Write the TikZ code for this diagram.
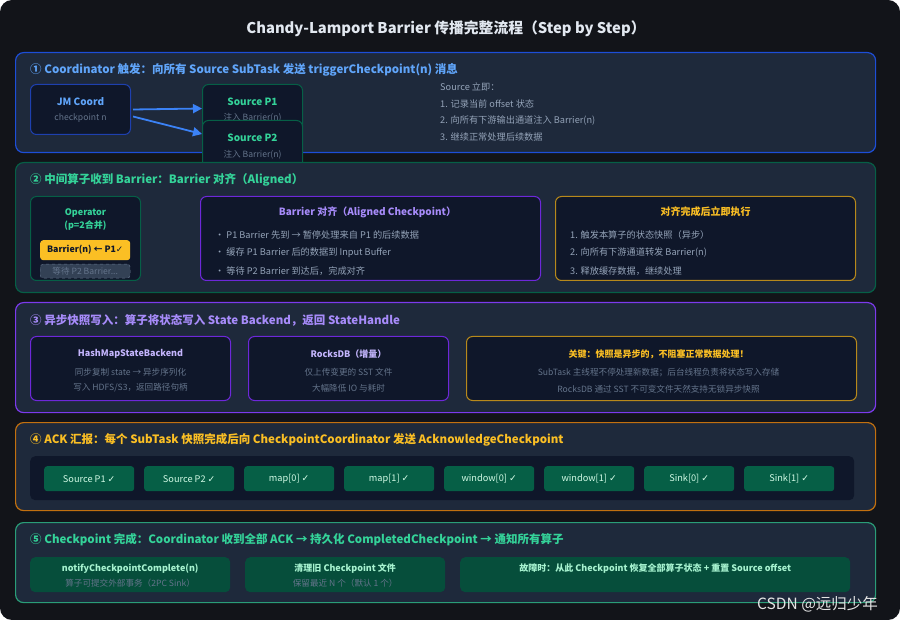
\documentclass[tikz,border=0pt]{standalone}
\usepackage{fontspec}
\setmainfont{Noto Sans CJK SC}
\newfontfamily\symfont{DejaVu Sans}
\usetikzlibrary{calc,arrows.meta}

\definecolor{pagebg}{HTML}{121419}
\definecolor{panelbg}{HTML}{1E293B}
\definecolor{boxbg}{HTML}{0F172A}
\definecolor{titletxt}{HTML}{E2E8F0}
\definecolor{bluebd}{HTML}{1D4ED8}
\definecolor{bluedk}{HTML}{1E40AF}
\definecolor{bluetxt}{HTML}{60A5FA}
\definecolor{arrowblue}{HTML}{3B82F6}
\definecolor{greenbd}{HTML}{065F46}
\definecolor{greentxt}{HTML}{34D399}
\definecolor{purplebd}{HTML}{7C3AED}
\definecolor{purpledk}{HTML}{6D28D9}
\definecolor{purpletxt}{HTML}{A78BFA}
\definecolor{purplelt}{HTML}{C4B5FD}
\definecolor{amberbd}{HTML}{B7891B}
\definecolor{orangebd}{HTML}{C2700F}
\definecolor{yellowtxt}{HTML}{FBBF24}
\definecolor{graytxt}{HTML}{94A3B8}
\definecolor{dimtxt}{HTML}{64748B}
\definecolor{waitbg}{HTML}{334155}
\definecolor{ackbg}{HTML}{065F46}
\definecolor{acktxt}{HTML}{D1FAE5}
\definecolor{donebd}{HTML}{2A9D78}
\definecolor{donebg}{HTML}{064E3B}
\definecolor{donetxt}{HTML}{A7F3D0}

\newcommand{\ok}{{\symfont ✓}}

\begin{document}
\begin{tikzpicture}[x=1pt, y=-1pt,
    panel/.style={draw, line width=1.2pt, rounded corners=8pt, fill=panelbg, anchor=north west, inner sep=0pt},
    box/.style={draw, line width=1pt, rounded corners=6pt, fill=boxbg, anchor=north west, inner sep=0pt},
    head/.style={anchor=west, inner sep=0pt, font=\bfseries\fontsize{11.5}{13}\selectfont},
    boxtitle/.style={inner sep=0pt, font=\bfseries\fontsize{10}{12}\selectfont},
    smalltitle/.style={inner sep=0pt, font=\bfseries\fontsize{9}{11}\selectfont},
    body/.style={anchor=west, inner sep=0pt, text=graytxt, font=\fontsize{9.2}{11}\selectfont},
    sub/.style={inner sep=0pt, text=dimtxt, font=\fontsize{8.6}{10}\selectfont},
    ack/.style={fill=ackbg, rounded corners=3pt, anchor=north west, minimum width=90pt, minimum height=25pt,
        inner sep=0pt, text=acktxt, font=\fontsize{9.2}{11}\selectfont},
    done/.style={fill=donebg, rounded corners=5pt, anchor=north west, minimum height=35pt, inner sep=0pt},
    arr/.style={draw=arrowblue, line width=1.8pt, -{Triangle[length=9pt, width=9pt]}}
  ]
  % page
  \fill[white] (0,0) rectangle (900,620);
  \fill[pagebg, rounded corners=12pt] (0,0) rectangle (900,620);
  \node[text=titletxt, font=\bfseries\fontsize{14.8}{17}\selectfont] (title) at (446,29)
    {Chandy-Lamport Barrier 传播完整流程（Step by Step）};

  % step 1
  \node[panel, draw=bluebd, minimum width=860pt, minimum height=100pt] (s1) at (15,52) {};
  \node[head, text=bluetxt] (h1) at (30,70)
    {① Coordinator 触发：向所有 Source SubTask 发送 triggerCheckpoint(n) 消息};
  \node[box, draw=bluedk, minimum width=100pt, minimum height=50pt] (jm) at (30,84) {};
  \node[boxtitle, text=bluetxt] at ($(jm.north)+(0,18)$) {JM Coord};
  \node[sub] at ($(jm.north)+(0,34)$) {checkpoint n};
  \node[box, draw=greenbd, minimum width=100pt, minimum height=48pt] (p1) at (202,84) {};
  \node[boxtitle, text=greentxt] at ($(p1.north)+(0,18)$) {Source P1};
  \node[sub] at ($(p1.north)+(0,34)$) {注入 Barrier(n)};
  \node[box, draw=greenbd, minimum width=100pt, minimum height=48pt] (p2) at (202,120) {};
  \node[boxtitle, text=greentxt] at ($(p2.north)+(0,18)$) {Source P2};
  \node[sub] at ($(p2.north)+(0,35)$) {注入 Barrier(n)};
  \draw[arr] ([yshift=0pt]jm.east) ++(2,0) -- (p1.west);
  \draw[arr] ($(jm.east)+(2,7)$) -- ($(p2.north west)+(0,14)$);
  \node[body] (src) at (440,87) {Source 立即：};
  \node[body] at (440,104) {1. 记录当前 offset 状态};
  \node[body] at (440,121) {2. 向所有下游输出通道注入 Barrier(n)};
  \node[body] at (440,137) {3. 继续正常处理后续数据};

  % step 2
  \node[panel, draw=greenbd, minimum width=860pt, minimum height=130pt] (s2) at (15,162) {};
  \node[head, text=greentxt] (h2) at (30,180) {② 中间算子收到 Barrier：Barrier 对齐（Aligned）};
  \node[box, draw=greenbd, minimum width=110pt, minimum height=84pt] (op) at (30,196) {};
  \node[smalltitle, text=greentxt] at ($(op.north)+(0,17)$) {Operator};
  \node[smalltitle, text=greentxt] at ($(op.north)+(0,30)$) {(p=2合并)};
  \node[fill=yellowtxt, rounded corners=3pt, anchor=north west, minimum width=90pt, minimum height=20pt,
    inner sep=0pt, font=\bfseries\fontsize{8.8}{10}\selectfont, text=boxbg] (got) at (40,240)
    {Barrier(n) ← P1\ok};
  \node[fill=waitbg, draw=dimtxt, dashed, rounded corners=3pt, anchor=north west, minimum width=90pt,
    minimum height=14pt, inner sep=0pt, text=dimtxt, font=\fontsize{8.6}{10}\selectfont] (wait) at (40,264)
    {等待 P2 Barrier...};
  \node[box, draw=purpledk, minimum width=340pt, minimum height=84pt] (align) at (200,196) {};
  \node[boxtitle, text=purpletxt] at ($(align.north)+(-3,16)$) {Barrier 对齐（Aligned Checkpoint）};
  \node[body] at (215,235) {• P1 Barrier 先到 → 暂停处理来自 P1 的后续数据};
  \node[body] at (215,253) {• 缓存 P1 Barrier 后的数据到 Input Buffer};
  \node[body] at (215,271) {• 等待 P2 Barrier 到达后，完成对齐};
  \node[box, draw=amberbd, minimum width=300pt, minimum height=84pt] (after) at (555,196) {};
  \node[boxtitle, text=yellowtxt] at ($(after.north)+(0,16)$) {对齐完成后立即执行};
  \node[body] at (570,235) {1. 触发本算子的状态快照（异步）};
  \node[body] at (570,253) {2. 向所有下游通道转发 Barrier(n)};
  \node[body] at (570,271) {3. 释放缓存数据，继续处理};

  % step 3
  \node[panel, draw=purplebd, minimum width=860pt, minimum height=110pt] (s3) at (15,302) {};
  \node[head, text=purpletxt] (h3) at (30,320)
    {③ 异步快照写入：算子将状态写入 State Backend，返回 StateHandle};
  \node[box, draw=purpledk, minimum width=200pt, minimum height=64pt] (hashmap) at (30,336) {};
  \node[smalltitle, text=purplelt] at ($(hashmap.north)+(0,18)$) {HashMapStateBackend};
  \node[sub] at ($(hashmap.north)+(0,36)$) {同步复制 state → 异步序列化};
  \node[sub] at ($(hashmap.north)+(0,52)$) {写入 HDFS/S3，返回路径句柄};
  \node[box, draw=purpledk, minimum width=200pt, minimum height=64pt] (rocks) at (248,336) {};
  \node[smalltitle, text=purplelt] at ($(rocks.north)+(0,18)$) {RocksDB（增量）};
  \node[sub] at ($(rocks.north)+(0,36)$) {仅上传变更的 SST 文件};
  \node[sub] at ($(rocks.north)+(0,52)$) {大幅降低 IO 与耗时};
  \node[box, draw=amberbd, minimum width=390pt, minimum height=64pt] (key) at (466,336) {};
  \node[smalltitle, text=yellowtxt] at ($(key.north)+(-3,18)$)
    {关键：快照是异步的，不阻塞正常数据处理！};
  \node[sub] at ($(key.north)+(-3,37)$) {SubTask 主线程不停处理新数据；后台线程负责将状态写入存储};
  \node[sub] at ($(key.north)+(-3,53)$) {RocksDB 通过 SST 不可变文件天然支持无锁异步快照};

  % step 4
  \node[panel, draw=orangebd, minimum width=860pt, minimum height=88pt] (s4) at (15,422) {};
  \node[head, text=yellowtxt] (h4) at (30,440)
    {④ ACK 汇报：每个 SubTask 快照完成后向 CheckpointCoordinator 发送 AcknowledgeCheckpoint};
  \node[fill=boxbg, rounded corners=5pt, anchor=north west, minimum width=824pt, minimum height=44pt,
    inner sep=0pt] (strip) at (30,456) {};
  \foreach \lbl [count=\i from 0] in {Source P1, Source P2, map[0], map[1], window[0], window[1], Sink[0], Sink[1]}
    \node[ack] (ack\i) at ({44+100*\i},466) {\lbl\ \ok};

  % step 5
  \node[panel, draw=donebd, minimum width=860pt, minimum height=80pt] (s5) at (15,522) {};
  \node[head, text=greentxt] (h5) at (30,540)
    {⑤ Checkpoint 完成：Coordinator 收到全部 ACK → 持久化 CompletedCheckpoint → 通知所有算子};
  \node[done, minimum width=200pt] (notify) at (30,557) {};
  \node[smalltitle, text=donetxt] at ($(notify.north)+(0,12)$) {notifyCheckpointComplete(n)};
  \node[sub] at ($(notify.north)+(0,26)$) {算子可提交外部事务（2PC Sink）};
  \node[done, minimum width=200pt] (clean) at (245,557) {};
  \node[smalltitle, text=donetxt] at ($(clean.north)+(0,12)$) {清理旧 Checkpoint 文件};
  \node[sub] at ($(clean.north)+(0,26)$) {保留最近 N 个（默认 1 个）};
  \node[done, minimum width=390pt] (recover) at (460,557) {};
  \node[smalltitle, text=donetxt] at ($(recover.north)+(0,12)$)
    {故障时：从此 Checkpoint 恢复全部算子状态 + 重置 Source offset};

  % watermark
  \node[anchor=west, inner sep=0pt, text=white!80!gray, font=\fontsize{15.5}{17}\selectfont] (mark) at (757,604)
    {CSDN @远归少年};
\end{tikzpicture}
\end{document}
